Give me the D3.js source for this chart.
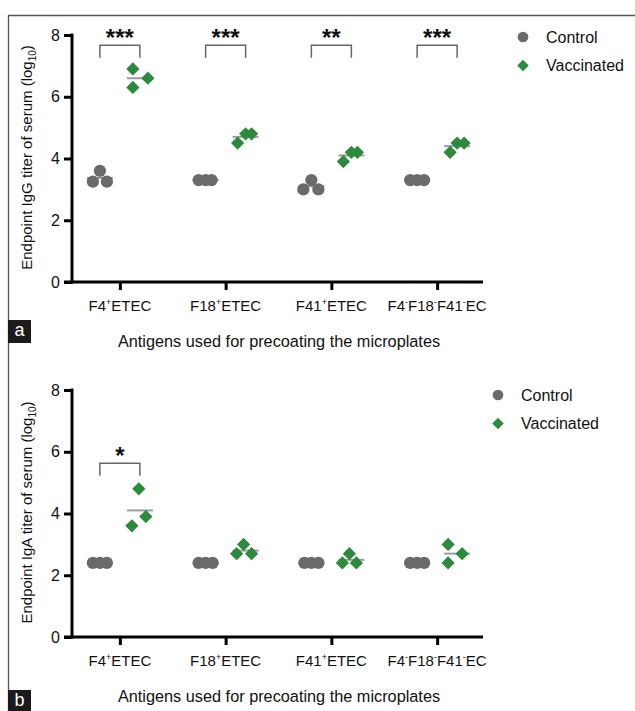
<!DOCTYPE html>
<html>
<head>
<meta charset="utf-8">
<script src="https://cdn.jsdelivr.net/npm/d3@7"></script>
<style>
  body { margin: 0; background: #fff; }
  text { font-family: "Liberation Sans", Arial, sans-serif; }
</style>
</head>
<body>
<svg id="chart" width="635" height="711"></svg>
<script>
// categories (superscript signs written as + and -)
const categories = ["F4+ETEC", "F18+ETEC", "F41+ETEC", "F4-F18-F41-EC"];
const groups = ["Control", "Vaccinated"];
const yTicks = [0, 2, 4, 6, 8];

// panel a: IgG (log10), three animals per group
const iggControl = [[3.25, 3.6, 3.25], [3.3, 3.3, 3.3], [3.0, 3.3, 3.0], [3.3, 3.3, 3.3]];
const iggVaccinated = [[6.9, 6.6, 6.3], [4.5, 4.8, 4.8], [3.9, 4.2, 4.2], [4.2, 4.5, 4.5]];
const iggSignif = ["***", "***", "**", "***"];

// panel b: IgA (log10)
const igaControl = [[2.4, 2.4, 2.4], [2.4, 2.4, 2.4], [2.4, 2.4, 2.4], [2.4, 2.4, 2.4]];
const igaVaccinated = [[4.8, 3.9, 3.6], [3.0, 2.7, 2.7], [2.7, 2.4, 2.4], [3.0, 2.7, 2.4]];
const igaSignif = ["*", "", "", ""];

// horizontal scatter of the dots inside a column (px), as laid out by the plotting program
const spreadA = {
  ctrl: [[-7, 0, 7], [-7, 0, 6], [-8, 0, 7], [-7, 0, 7]],
  vacc: [[-7, 8, -7], [-8, 0, 6], [-8, 0, 6], [-7, 0, 7]]
};
const spreadB = {
  ctrl: [[-7, 0, 7], [-7, 0, 7], [-7, 0, 7], [-7, 0, 7]],
  vacc: [[-1, 6, -8], [-2, -9, 6], [-2, -9, 5], [-9, 5, -9]]
};

const grey = "#6a6a6a";
const green = "#2c8a3c";
const svg = d3.select("#chart");

// outer frame (only top and left are inside the picture)
svg.append("path")
  .attr("d", "M8.5,711 V15.5 H635")
  .attr("fill", "none")
  .attr("stroke", "#555")
  .attr("stroke-width", 1.3);

function drawPanel(opts) {
  const g = svg.append("g");
  const y = d3.scaleLinear().domain([0, 8]).range([opts.y0, opts.y0 - 247]);
  const x = d3.scalePoint().domain(categories).range([67, 490]).padding(0.5);
  const off = 20;

  // y axis
  const yAxis = g.append("g")
    .attr("transform", "translate(72,0)")
    .call(d3.axisLeft(y).tickValues(yTicks).tickSize(8).tickPadding(4));
  yAxis.select(".domain").remove();
  yAxis.selectAll(".tick line").attr("stroke", "#000").attr("stroke-width", 3);
  yAxis.selectAll(".tick text").attr("font-size", 16).attr("fill", "#111")
    .attr("font-family", "Liberation Sans, Arial, sans-serif");
  g.append("line").attr("x1", 72).attr("x2", 72)
    .attr("y1", y(8) - 1.5).attr("y2", y(0) + 1.5)
    .attr("stroke", "#000").attr("stroke-width", 3);

  // x axis
  const xAxis = g.append("g")
    .attr("transform", `translate(0,${y(0)})`)
    .call(d3.axisBottom(x).tickSize(8).tickFormat(""));
  xAxis.select(".domain").remove();
  xAxis.selectAll(".tick line").attr("stroke", "#000").attr("stroke-width", 3);
  g.append("line").attr("x1", 64).attr("x2", 483)
    .attr("y1", y(0)).attr("y2", y(0))
    .attr("stroke", "#000").attr("stroke-width", 3);

  // category labels with superscript signs
  categories.forEach(c => {
    const t = g.append("text")
      .attr("x", x(c)).attr("y", y(0) + 29)
      .attr("text-anchor", "middle")
      .attr("font-size", 15).attr("fill", "#111");
    c.split(/([+-])/).forEach(part => {
      if (part === "") return;
      if (part === "+" || part === "-") {
        t.append("tspan").attr("font-size", 9).attr("dy", -6).text(part);
      } else {
        const s = t.append("tspan").text(part);
        if (t.selectAll("tspan").size() > 1) s.attr("dy", 6);
      }
    });
  });

  // axis titles
  g.append("text")
    .attr("x", 279).attr("y", y(0) + 65)
    .attr("text-anchor", "middle")
    .attr("font-size", 16.3).attr("fill", "#111")
    .text("Antigens used for precoating the microplates");

  const yt = g.append("text")
    .attr("transform", `translate(32,${(y(0) + y(8)) / 2 - 1}) rotate(-90)`)
    .attr("text-anchor", "middle")
    .attr("font-size", 15).attr("fill", "#111");
  yt.append("tspan").text(opts.yTitle + " (log");
  yt.append("tspan").attr("font-size", 10).attr("dy", 4).text("10");
  yt.append("tspan").attr("dy", -4).text(")");

  // mean lines
  categories.forEach((c, i) => {
    [[opts.ctrl[i], -off], [opts.vacc[i], off]].forEach(([vals, o]) => {
      const m = d3.mean(vals);
      g.append("line")
        .attr("x1", x(c) + o - 13).attr("x2", x(c) + o + 13)
        .attr("y1", y(m)).attr("y2", y(m))
        .attr("stroke", "#9c9c9c").attr("stroke-width", 2);
    });
  });

  // points
  const circle = d3.symbol().type(d3.symbolCircle).size(118);
  const diamond = d3.symbol().type(d3.symbolSquare).size(88);
  categories.forEach((c, i) => {
    opts.ctrl[i].forEach((v, j) => {
      g.append("path").attr("d", circle)
        .attr("transform", `translate(${x(c) - off + opts.spread.ctrl[i][j]},${y(v)})`)
        .attr("fill", grey);
    });
    opts.vacc[i].forEach((v, j) => {
      g.append("path").attr("d", diamond)
        .attr("transform", `translate(${x(c) + off + opts.spread.vacc[i][j]},${y(v)}) rotate(45)`)
        .attr("fill", green);
    });
  });

  // significance brackets
  categories.forEach((c, i) => {
    const s = opts.signif[i];
    if (!s) return;
    const top = y(opts.bracket), bot = top + 12.5;
    g.append("path")
      .attr("d", `M${x(c) - off},${bot} V${top} H${x(c) + off} V${bot}`)
      .attr("fill", "none").attr("stroke", "#666").attr("stroke-width", 1.5);
    g.append("text")
      .attr("x", x(c)).attr("y", top + 1)
      .attr("text-anchor", "middle")
      .attr("font-size", 24).attr("font-weight", "bold").attr("fill", "#111")
      .text(s);
  });

  // legend
  const lg = g.append("g").attr("transform", `translate(${opts.legend[0]},${opts.legend[1]})`);
  groups.forEach((name, k) => {
    const sym = k === 0
      ? d3.symbol().type(d3.symbolCircle).size(90)
      : d3.symbol().type(d3.symbolSquare).size(66);
    lg.append("path").attr("d", sym)
      .attr("transform", `translate(0,${k * 28.5})` + (k === 1 ? " rotate(45)" : ""))
      .attr("fill", k === 0 ? grey : green);
    lg.append("text")
      .attr("x", 23).attr("y", k * 28.5)
      .attr("dy", "0.35em")
      .attr("font-size", 16).attr("fill", "#111")
      .text(name);
  });

  // panel letter
  g.append("rect").attr("x", 8).attr("y", opts.letterY).attr("width", 23).attr("height", 23)
    .attr("fill", "#1b1b1b");
  g.append("text").attr("x", 19.5).attr("y", opts.letterY + 16)
    .attr("text-anchor", "middle").attr("font-size", 18).attr("fill", "#fff")
    .text(opts.letter);
}

drawPanel({
  y0: 282, ctrl: iggControl, vacc: iggVaccinated, signif: iggSignif, bracket: 7.67,
  spread: spreadA, yTitle: "Endpoint IgG titer of serum", legend: [523, 37],
  letter: "a", letterY: 320
});
drawPanel({
  y0: 637, ctrl: igaControl, vacc: igaVaccinated, signif: igaSignif, bracket: 5.63,
  spread: spreadB, yTitle: "Endpoint IgA titer of serum", legend: [498, 395],
  letter: "b", letterY: 690
});
</script>
</body>
</html>
